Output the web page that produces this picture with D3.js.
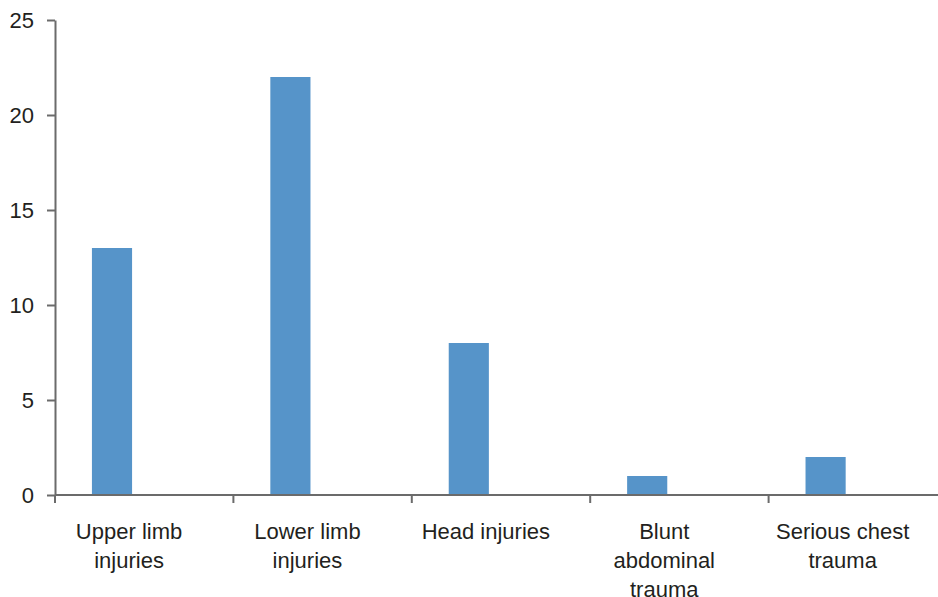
<!DOCTYPE html>
<html>
<head>
<meta charset="utf-8">
<script src="https://cdn.jsdelivr.net/npm/d3@7"></script>
<style>
  html, body { margin: 0; padding: 0; background: #fff; }
  svg { display: block; font-family: "Liberation Sans", Arial, sans-serif; }
</style>
</head>
<body>
<svg id="chart" width="938" height="597"></svg>
<script>
// Injury categories (label lines) and number of cases
const categories = ["Upper limb injuries", "Lower limb injuries", "Head injuries", "Blunt abdominal trauma", "Serious chest trauma"];
const labelLines = [["Upper limb", "injuries"], ["Lower limb", "injuries"], ["Head injuries"], ["Blunt", "abdominal", "trauma"], ["Serious chest", "trauma"]];
const values = [13, 22, 8, 1, 2];
const yTicks = [0, 5, 10, 15, 20, 25];

(function () {
  const svg = d3.select("#chart");
  const plotLeft = 55, plotTop = 20, plotBottom = 495, bandW = 178.4;

  const x = d3.scaleBand().domain(categories).range([plotLeft, plotLeft + bandW * categories.length]).padding(0);
  const y = d3.scaleLinear().domain([0, 25]).range([plotBottom, plotTop]);

  const axisColor = "#6b6b6b";
  const textColor = "#231f20";

  // Bars
  svg.append("g").selectAll("rect").data(categories).join("rect")
    .attr("x", (d) => x(d) + x.bandwidth() * 0.207)
    .attr("width", x.bandwidth() * 0.225)
    .attr("y", (d, i) => y(values[i]))
    .attr("height", (d, i) => y(0) - y(values[i]))
    .attr("fill", "#5694c9");

  // Y axis
  const yAxis = svg.append("g").attr("transform", `translate(${plotLeft},0)`)
    .call(d3.axisLeft(y).tickValues(yTicks).tickSize(8).tickPadding(13).tickSizeOuter(0));
  yAxis.select(".domain").attr("stroke", axisColor).attr("stroke-width", 2);
  yAxis.selectAll(".tick line").attr("stroke", axisColor).attr("stroke-width", 2);
  yAxis.selectAll(".tick text").attr("fill", textColor).attr("font-size", 22)
    .attr("font-family", "Liberation Sans, Arial, sans-serif");

  // X axis baseline
  svg.append("line")
    .attr("x1", plotLeft).attr("x2", 938)
    .attr("y1", y(0)).attr("y2", y(0))
    .attr("stroke", axisColor).attr("stroke-width", 2);

  // Category boundary ticks
  const boundaries = categories.map((c) => x(c)).concat([x.range()[1]]);
  svg.append("g").selectAll("line").data(boundaries).join("line")
    .attr("x1", (d) => d).attr("x2", (d) => d)
    .attr("y1", y(0)).attr("y2", y(0) + 8)
    .attr("stroke", axisColor).attr("stroke-width", 2);

  // Category labels
  const lab = svg.append("g").selectAll("text").data(categories).join("text")
    .attr("text-anchor", "middle")
    .attr("font-size", 22)
    .attr("fill", textColor)
    .attr("transform", (d) => `translate(${x(d) + x.bandwidth() * 0.415},539)`);
  lab.each(function (d, i) {
    d3.select(this).selectAll("tspan").data(labelLines[i]).join("tspan")
      .attr("x", 0)
      .attr("y", (t, j) => j * 29)
      .text((t) => t);
  });
})();
</script>
</body>
</html>
